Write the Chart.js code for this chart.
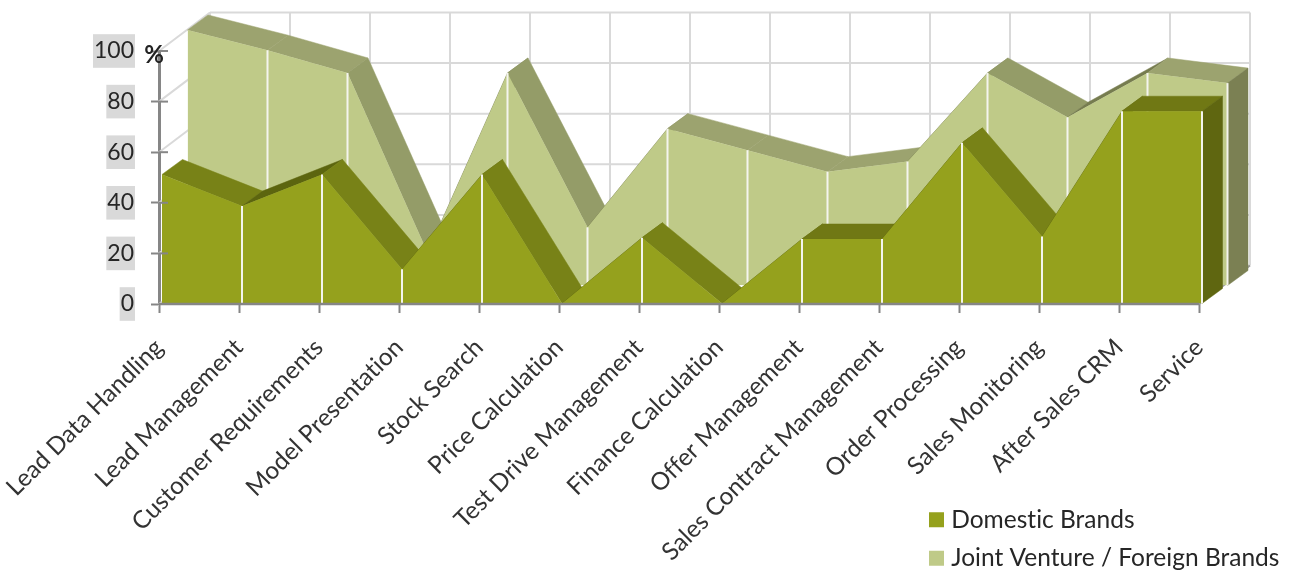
<!DOCTYPE html>
<html><head><meta charset="utf-8">
<style>html,body{margin:0;padding:0;background:#fff}canvas{display:block}</style>
<script src="https://cdn.jsdelivr.net/npm/chart.js@4"></script>
</head><body><canvas id="c" width="1291" height="570"></canvas>
<script>
const categories = ["Lead Data Handling","Lead Management","Customer Requirements","Model Presentation","Stock Search","Price Calculation","Test Drive Management","Finance Calculation","Offer Management","Sales Contract Management","Order Processing","Sales Monitoring","After Sales CRM","Service"];
const domesticBrands = [51,38.5,51,13.5,51,0,26,0,25.5,25.5,63.5,26.5,76,76];
const jointVentureForeign = [101,93,84,13,84,23,62,53.5,45,49,84,66.5,84,80];
const yTicks = [0,20,40,60,80,100];

const FONT = "Lato";
const TXT = "#262626";
const DEPTH = {x:20.5, y:-15};
const SHIFT = {front:{x:3,y:-0.5}, back:{x:28.5,y:-18.5}};
const WALL = {x:51, y:-38.5};
const GRID = "#d9d9d9";
const SHADE = [
  {t:0.5, down:"#949c68", flat:"#9ca36f", up:"#767c4f", end:"#7b8053"},
  {t:0.15, down:"#788217", flat:"#707814", up:"#5c650f", end:"#5f6610"}
];

function line(ctx,x1,y1,x2,y2,c,w){ctx.strokeStyle=c;ctx.lineWidth=w;ctx.beginPath();ctx.moveTo(x1,y1);ctx.lineTo(x2,y2);ctx.stroke();}
function quad(ctx,pts,c){ctx.fillStyle=c;ctx.strokeStyle=c;ctx.lineWidth=0.5;ctx.beginPath();pts.forEach((p,i)=>i?ctx.lineTo(p[0],p[1]):ctx.moveTo(p[0],p[1]));ctx.closePath();ctx.fill();ctx.stroke();}

function depthFaces(chart,index,shade){
  const ctx=chart.ctx, pts=chart.getDatasetMeta(index).data, base=chart.scales.y.getPixelForValue(0);
  for(let i=0;i<pts.length-1;i++){
    const a=pts[i], b=pts[i+1], m=(b.y-a.y)/(b.x-a.x);
    const c=m>shade.t?shade.down:(m<-0.3?shade.up:shade.flat);
    quad(ctx,[[a.x,a.y],[b.x,b.y],[b.x+DEPTH.x,b.y+DEPTH.y],[a.x+DEPTH.x,a.y+DEPTH.y]],c);
  }
  const l=pts[pts.length-1];
  quad(ctx,[[l.x,l.y],[l.x+DEPTH.x,l.y+DEPTH.y],[l.x+DEPTH.x,base+DEPTH.y],[l.x,base]],shade.end);
}
function dropLines(chart,index){
  const ctx=chart.ctx, pts=chart.getDatasetMeta(index).data, base=chart.scales.y.getPixelForValue(0);
  for(let i=1;i<pts.length;i++) line(ctx,pts[i].x,pts[i].y,pts[i].x,base,"#f4f4ee",2);
}

const scene = {
  id:"scene",
  afterLayout(chart){
    const L=chart.legend; L.left=920; L.top=493.5; L.right=1291; L.bottom=720; L.width=371; L.height=226.5;
  },
  beforeDraw(chart){ chart.ctx.letterSpacing="0.01px"; },
  beforeDatasetsDraw(chart){
    const ctx=chart.ctx, {x,y}=chart.scales;
    yTicks.forEach(v=>{
      const py=y.getPixelForValue(v);
      line(ctx,x.left,py,x.left+WALL.x,py+WALL.y,GRID,2);
      line(ctx,x.left+WALL.x,py+WALL.y,x.right+WALL.x,py+WALL.y,GRID,2);
    });
    const top=y.getPixelForValue(100), bot=y.getPixelForValue(0);
    categories.forEach((c,i)=>{
      const px=x.getPixelForValue(i);
      line(ctx,px+WALL.x,top+WALL.y,px+WALL.x,bot+WALL.y,GRID,2);
    });
    line(ctx,x.right,bot,x.right+WALL.x,bot+WALL.y,"#9a9a9a",2);
    chart.chartArea.top-=10;
    ctx.save();
    ctx.translate(SHIFT.back.x,SHIFT.back.y);
    depthFaces(chart,1,SHADE[0]);
  },
  afterDatasetDraw(chart,args){
    const ctx=chart.ctx;
    if(args.index===1){
      dropLines(chart,1);
      ctx.restore();
      ctx.save();
      ctx.translate(SHIFT.front.x,SHIFT.front.y);
      depthFaces(chart,0,SHADE[1]);
    } else {
      dropLines(chart,0);
      ctx.restore();
    }
  },
  afterDatasetsDraw(chart){
    chart.chartArea.top+=10;
    const ctx=chart.ctx, {x,y}=chart.scales;
    yTicks.forEach(v=>{const py=y.getPixelForValue(v);line(ctx,x.left,py,x.left+9,py,"#868686",2);});
    line(ctx,x.left,y.bottom,x.right,y.bottom,"#868686",2.5);
    ctx.fillStyle="#222";ctx.font="bold 24px "+FONT;ctx.textAlign="center";ctx.textBaseline="middle";
    ctx.fillText("%",154,55);
  }
};

new Chart(document.getElementById("c"),{
  type:"line",
  data:{labels:categories,datasets:[
    {label:"Domestic Brands",data:domesticBrands,backgroundColor:"#95A11D",borderColor:"#95A11D",borderWidth:0,fill:"origin",tension:0,pointRadius:0,clip:false},
    {label:"Joint Venture / Foreign Brands",data:jointVentureForeign,backgroundColor:"#BFCA88",borderColor:"#BFCA88",borderWidth:0,fill:"origin",tension:0,pointRadius:0,clip:false}
  ]},
  plugins:[scene],
  options:{
    responsive:false,animation:false,
    layout:{padding:{left:79,right:92,top:51,bottom:0}},
    plugins:{
      tooltip:{enabled:false},
      legend:{
        display:true,position:"chartArea",align:"start",
        labels:{
          boxWidth:5,boxHeight:5,padding:14,color:TXT,font:{family:FONT,size:24.5},
          generateLabels(chart){
            return Chart.defaults.plugins.legend.labels.generateLabels(chart).map(l=>({...l,lineWidth:10,strokeStyle:l.fillStyle}));
          }
        }
      }
    },
    scales:{
      x:{
        offset:false,
        grid:{drawOnChartArea:false,drawTicks:true,tickLength:9,tickWidth:2,tickColor:"#868686"},
        border:{display:false},
        ticks:{autoSkip:false,minRotation:45,maxRotation:45,padding:20,color:"#333",font:{family:FONT,size:24.4}},
        afterFit(s){s.height=266;s.paddingLeft=0;s.paddingRight=0;}
      },
      y:{
        min:0,max:100,
        afterBuildTicks(s){s.ticks=yTicks.map(v=>({value:v}));},
        grid:{drawOnChartArea:false,drawTicks:true,tickLength:8,tickWidth:2,tickColor:"#868686"},
        border:{display:true,color:"#868686",width:3},
        ticks:{padding:17,color:TXT,font:{family:FONT,size:23},showLabelBackdrop:true,backdropColor:"#d9d9d9",backdropPadding:{x:1,y:3}},
        afterFit(s){s.width=80;}
      }
    }
  }
});
</script></body></html>
